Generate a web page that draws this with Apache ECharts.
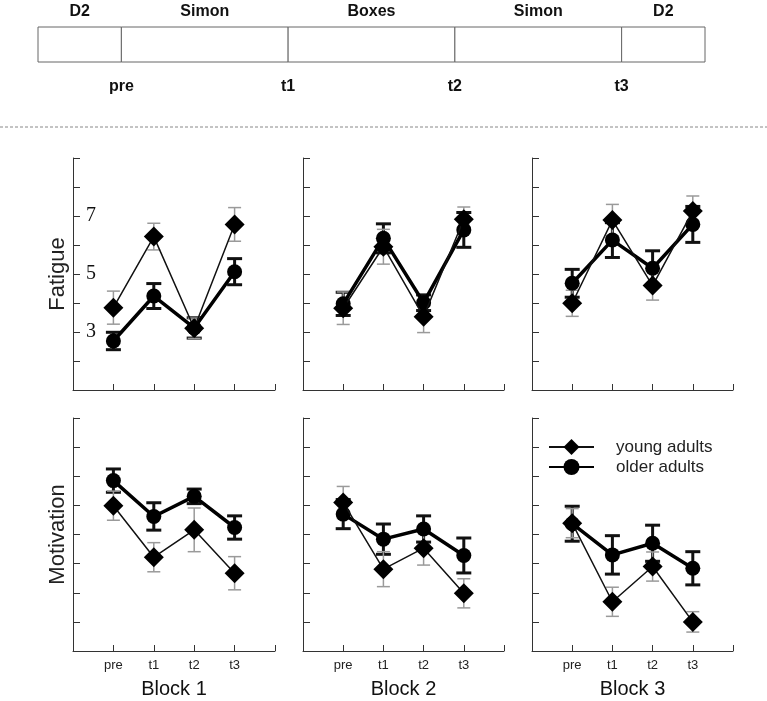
<!DOCTYPE html>
<html>
<head>
<meta charset="utf-8">
<script src="https://cdn.jsdelivr.net/npm/echarts@6/dist/echarts.min.js"></script>
<style>html,body{margin:0;padding:0;background:#fff}#c{width:767px;height:701px}</style>
</head>
<body>
<div id="c"></div>
<script>
// ---------- data ----------
var timePoints = ['pre', 't1', 't2', 't3'];
var blocks = ['Block 1', 'Block 2', 'Block 3'];
var fatigueTickLabels = [3, 5, 7];

var fatigueYoung = [[3.84, 6.29, 3.13, 6.71], [3.82, 5.94, 3.53, 6.89], [3.99, 6.86, 4.60, 7.17]];
var fatigueYoungErr = [[0.57, 0.46, 0.35, 0.58], [0.56, 0.60, 0.55, 0.42], [0.45, 0.54, 0.50, 0.52]];
var fatigueOlder = [[2.69, 4.24, 3.14, 5.08], [3.97, 6.23, 4.01, 6.52], [4.68, 6.17, 5.20, 6.71]];
var fatigueOlderErr = [[0.30, 0.43, 0.35, 0.45], [0.40, 0.50, 0.27, 0.60], [0.48, 0.60, 0.60, 0.62]];

var motivYoung = [[5.99, 4.22, 5.16, 3.67], [6.10, 3.81, 4.53, 2.98], [5.39, 2.69, 3.90, 2.00]];
var motivYoungErr = [[0.50, 0.50, 0.75, 0.57], [0.55, 0.60, 0.58, 0.50], [0.50, 0.50, 0.50, 0.35]];
var motivOlder = [[6.85, 5.62, 6.31, 5.24], [5.70, 4.84, 5.19, 4.28], [5.37, 4.30, 4.70, 3.84]];
var motivOlderErr = [[0.40, 0.47, 0.25, 0.40], [0.50, 0.52, 0.45, 0.60], [0.60, 0.66, 0.62, 0.57]];

// procedure diagram
var segNames = ['D2', 'Simon', 'Boxes', 'Simon', 'D2'];
var segStart = [0, 0.5, 1.5, 2.5, 3.5];
var segEnd = [0.5, 1.5, 2.5, 3.5, 4];
var measureNames = ['pre', 't1', 't2', 't3'];
var measurePos = [0.5, 1.5, 2.5, 3.5];

// ---------- chart ----------
var chart = echarts.init(document.getElementById('c'));
var SANS = 'Liberation Sans, Arial, sans-serif';
var SERIF = 'Liberation Serif, Times New Roman, serif';

var colLeft = [73, 303, 532];
var colWidth = [202, 201, 201];
var rowTop = [158, 418];
var rowHeight = [232, 233];

var grids = [], xAxes = [], yAxes = [], series = [];

function errRender(color, width, cap) {
  return function (params, api) {
    var x = api.value(0), lo = api.value(1), hi = api.value(2);
    var a = api.coord([x, lo]), b = api.coord([x, hi]);
    var h = cap / 2;
    var st = { stroke: color, lineWidth: width };
    return {
      type: 'group',
      children: [
        { type: 'line', shape: { x1: a[0], y1: a[1], x2: b[0], y2: b[1] }, style: st },
        { type: 'line', shape: { x1: a[0] - h, y1: a[1], x2: a[0] + h, y2: a[1] }, style: st },
        { type: 'line', shape: { x1: b[0] - h, y1: b[1], x2: b[0] + h, y2: b[1] }, style: st }
      ]
    };
  };
}

function pts(vals) { return vals.map(function (v, i) { return [i + 1, v]; }); }
function errs(vals, e) { return vals.map(function (v, i) { return [i + 1, v - e[i], v + e[i]]; }); }

var rows = [
  { name: 'Fatigue', young: fatigueYoung, youngErr: fatigueYoungErr, older: fatigueOlder, olderErr: fatigueOlderErr },
  { name: 'Motivation', young: motivYoung, youngErr: motivYoungErr, older: motivOlder, olderErr: motivOlderErr }
];

rows.forEach(function (row, r) {
  for (var c = 0; c < 3; c++) {
    var gi = grids.length;
    grids.push({ left: colLeft[c], top: rowTop[r], width: colWidth[c], height: rowHeight[r] });
    xAxes.push({
      type: 'value', gridIndex: gi, min: 0, max: 5, interval: 1,
      axisLine: { lineStyle: { color: '#333', width: 1 } },
      axisTick: { inside: true, length: 6, lineStyle: { color: '#333' } },
      splitLine: { show: false },
      axisLabel: {
        show: r === 1, margin: 8, color: '#222', fontFamily: SANS, fontSize: 13,
        formatter: function (v) { return timePoints[v - 1] || ''; }
      },
      name: r === 1 ? blocks[c] : '', nameLocation: 'middle', nameGap: 28,
      nameTextStyle: { color: '#111', fontFamily: SANS, fontSize: 20 }
    });
    yAxes.push({
      type: 'value', gridIndex: gi, min: 1, max: 9, interval: 1,
      axisLine: { show: true, lineStyle: { color: '#333', width: 1 } },
      axisTick: { show: true, inside: true, length: 7, lineStyle: { color: '#333' } },
      splitLine: { show: false },
      axisLabel: {
        show: r === 0 && c === 0, inside: true, margin: 13, color: '#111', fontFamily: SERIF, fontSize: 20,
        formatter: function (v) { return fatigueTickLabels.indexOf(v) >= 0 ? String(v) : ''; }
      },
      name: c === 0 ? row.name : '', nameLocation: 'middle', nameRotate: 90, nameGap: 4,
      nameTextStyle: { color: '#222', fontFamily: SANS, fontSize: 22 }
    });
    series.push({
      type: 'custom', xAxisIndex: gi, yAxisIndex: gi, z: 1, silent: true,
      renderItem: errRender('#111', 3, 15), encode: { x: 0, y: [1, 2] },
      data: errs(row.older[c], row.olderErr[c])
    });
    series.push({
      type: 'custom', xAxisIndex: gi, yAxisIndex: gi, z: 2, silent: true,
      renderItem: errRender('#9a9a9a', 1.5, 13), encode: { x: 0, y: [1, 2] },
      data: errs(row.young[c], row.youngErr[c])
    });
    series.push({
      type: 'line', name: 'older adults', xAxisIndex: gi, yAxisIndex: gi, z: 3,
      symbol: 'circle', symbolSize: 15, showSymbol: true, animation: false,
      lineStyle: { color: '#000', width: 3.5 }, itemStyle: { color: '#000' },
      data: pts(row.older[c])
    });
    series.push({
      type: 'line', name: 'young adults', xAxisIndex: gi, yAxisIndex: gi, z: 4,
      symbol: 'diamond', symbolSize: 20, showSymbol: true, animation: false,
      lineStyle: { color: '#111', width: 1.5 }, itemStyle: { color: '#000' },
      data: pts(row.young[c])
    });
  }
});

// procedure diagram grid
var dg = grids.length;
grids.push({ left: 38, top: 27, width: 667, height: 35 });
xAxes.push({ type: 'value', gridIndex: dg, min: 0, max: 4, show: false });
yAxes.push({ type: 'value', gridIndex: dg, min: 0, max: 1, show: false });
series.push({
  type: 'custom', xAxisIndex: dg, yAxisIndex: dg, silent: true,
  encode: { x: [0, 1], y: 2 },
  data: segNames.map(function (n, i) { return [segStart[i], segEnd[i], 0, n]; }),
  renderItem: function (params, api) {
    var a = api.coord([api.value(0), 0]);
    var b = api.coord([api.value(1), 1]);
    return {
      type: 'group',
      children: [
        { type: 'rect', shape: { x: a[0], y: b[1], width: b[0] - a[0], height: a[1] - b[1] },
          style: { fill: '#fff', stroke: '#666', lineWidth: 1 } },
        { type: 'text', x: (a[0] + b[0]) / 2, y: b[1] - 15,
          style: { text: api.value(3), fill: '#111', font: 'bold 16px ' + SANS, align: 'center', verticalAlign: 'middle' } }
      ]
    };
  }
});
series.push({
  type: 'custom', xAxisIndex: dg, yAxisIndex: dg, silent: true,
  encode: { x: 0, y: 1 },
  data: measureNames.map(function (n, i) { return [measurePos[i], 0, n]; }),
  renderItem: function (params, api) {
    var a = api.coord([api.value(0), 0]);
    return { type: 'text', x: a[0], y: a[1] + 25,
      style: { text: api.value(2), fill: '#111', font: 'bold 16px ' + SANS, align: 'center', verticalAlign: 'middle' } };
  }
});

chart.setOption({
  animation: false,
  backgroundColor: '#fff',
  grid: grids,
  xAxis: xAxes,
  yAxis: yAxes,
  series: series,
  legend: {
    data: ['young adults', 'older adults'],
    orient: 'vertical', left: 543, top: 432,
    itemWidth: 45, itemHeight: 20, itemGap: 0,
    selectedMode: false,
    textStyle: { color: '#222', fontFamily: SANS, fontSize: 17, lineHeight: 20, padding: [0, 0, 0, 17] }
  },
  graphic: [{
    type: 'line', shape: { x1: 0, y1: 127, x2: 767, y2: 127 },
    style: { stroke: '#888', lineWidth: 1, lineDash: [3, 2] }
  }]
});
</script>
</body>
</html>
